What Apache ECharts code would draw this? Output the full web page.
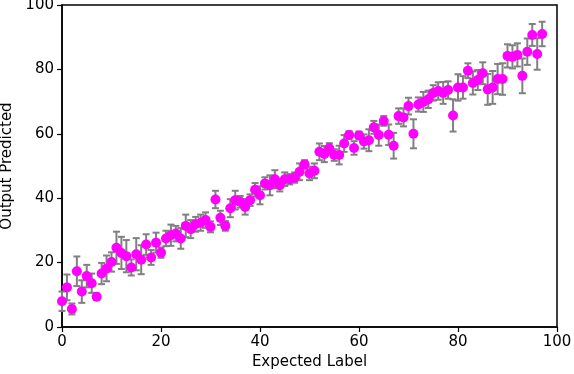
<!DOCTYPE html>
<html>
<head>
<meta charset="utf-8">
<script src="https://cdn.jsdelivr.net/npm/echarts@6/dist/echarts.min.js"></script>
<style>
  html, body { margin: 0; padding: 0; background: #fff; }
  #chart { width: 574px; height: 374px; }
</style>
</head>
<body>
<div id="chart"></div>
<script>
// expected label (x) for every point
var expectedLabel = [
  0, 1, 2, 3, 4, 5, 6, 7, 8, 9, 10, 11, 12, 13, 14, 15, 16, 17, 18, 19,
  20, 21, 22, 23, 24, 25, 26, 27, 28, 29, 30, 31, 32, 33, 34, 35, 36, 37, 38, 39,
  40, 41, 42, 43, 44, 45, 46, 47, 48, 49, 50, 51, 52, 53, 54, 55, 56, 57, 58, 59,
  60, 61, 62, 63, 64, 65, 66, 67, 68, 69, 70, 71, 72, 73, 74, 75, 76, 77, 78, 79,
  80, 81, 82, 83, 84, 85, 86, 87, 88, 89, 90, 91, 92, 93, 94, 95, 96, 97
];
// mean predicted output
var outputPredicted = [
  8.0, 12.3, 5.6, 17.3, 11.0, 15.8, 13.6, 9.4, 16.6, 18.2,
  20.2, 24.6, 23.0, 22.0, 18.5, 22.6, 20.9, 25.6, 21.6, 26.2,
  23.1, 27.5, 28.5, 29.0, 27.5, 31.4, 30.4, 31.9, 32.4, 33.2,
  31.1, 39.6, 33.9, 31.4, 36.9, 39.4, 38.9, 37.3, 39.4, 42.6,
  40.9, 44.6, 44.0, 45.9, 44.0, 45.9, 45.9, 46.4, 48.2, 50.5,
  47.7, 48.5, 54.4, 53.7, 55.5, 53.4, 53.4, 57.0, 59.6, 55.6,
  59.5, 57.6, 58.0, 62.0, 59.6, 64.0, 59.7, 56.3, 65.5, 65.1,
  68.6, 60.0, 69.1, 69.9, 70.7, 72.7, 73.3, 72.7, 73.6, 65.7,
  74.4, 74.4, 79.6, 75.8, 76.7, 78.8, 73.8, 74.4, 77.0, 77.0,
  84.2, 83.9, 84.5, 78.0, 85.5, 90.7, 84.8, 91.0
];
// error bar half-length
var outputError = [
  3.0, 4.0, 1.7, 4.6, 3.5, 3.5, 3.0, 1.0, 3.3, 4.0,
  3.0, 5.0, 5.0, 5.0, 2.5, 5.0, 4.5, 3.2, 2.3, 3.1,
  1.6, 2.4, 3.3, 2.4, 3.2, 3.5, 2.8, 2.3, 2.5, 2.4,
  1.7, 2.7, 2.2, 1.5, 2.8, 2.9, 1.8, 2.4, 1.8, 2.1,
  2.8, 1.9, 3.1, 2.8, 1.9, 2.1, 1.6, 1.6, 2.6, 1.3,
  2.1, 2.3, 2.6, 2.5, 1.6, 1.8, 2.9, 2.6, 1.2, 2.1,
  1.2, 2.2, 3.4, 2.0, 3.3, 1.5, 3.2, 4.0, 2.4, 2.8,
  2.6, 4.5, 2.2, 3.1, 2.7, 2.4, 2.7, 3.4, 2.7, 5.0,
  4.1, 3.5, 2.3, 3.6, 3.1, 3.4, 4.8, 5.1, 4.7, 4.9,
  3.6, 3.6, 3.6, 5.4, 4.1, 3.4, 4.9, 3.8
];
var xTicks = [0, 20, 40, 60, 80, 100];
var yTicks = [0, 20, 40, 60, 80, 100];

var points = expectedLabel.map(function (x, i) { return [x, outputPredicted[i]]; });
var bars = expectedLabel.map(function (x, i) {
  return [x, outputPredicted[i] - outputError[i], outputPredicted[i] + outputError[i]];
});

var chart = echarts.init(document.getElementById('chart'));
var font = 'DejaVu Sans';

function axisCommon(ticks, name, gap) {
  return {
    type: 'value',
    min: ticks[0],
    max: ticks[ticks.length - 1],
    interval: ticks[1] - ticks[0],
    name: name,
    nameLocation: 'middle',
    nameGap: gap,
    nameTextStyle: { color: '#000', fontSize: 15, fontFamily: font },
    axisLine: { show: true, onZero: false, lineStyle: { color: '#000', width: 1.5 } },
    axisTick: { show: true, inside: false, length: 5, lineStyle: { color: '#000', width: 1.2 } },
    axisLabel: { color: '#000', fontSize: 15, fontFamily: font, margin: 8 },
    splitLine: { show: false }
  };
}

var errStyle = { stroke: '#808080', lineWidth: 2 };

chart.setOption({
  animation: false,
  grid: {
    left: 62, right: 17, top: 5, bottom: 47,
    containLabel: false,
    outerBoundsMode: 'none',
    show: true, borderColor: '#000', borderWidth: 1.5, backgroundColor: '#fff'
  },
  xAxis: axisCommon(xTicks, 'Expected Label', 27),
  yAxis: axisCommon(yTicks, 'Output Predicted', 44),
  series: [
    {
      type: 'custom',
      data: bars,
      encode: { x: 0, y: [1, 2] },
      z: 2,
      renderItem: function (params, api) {
        var x = api.value(0);
        var top = api.coord([x, api.value(2)]);
        var bot = api.coord([x, api.value(1)]);
        var cap = 3.5;
        return {
          type: 'group',
          children: [
            { type: 'line', shape: { x1: top[0], y1: top[1], x2: bot[0], y2: bot[1] }, style: errStyle },
            { type: 'line', shape: { x1: top[0] - cap, y1: top[1], x2: top[0] + cap, y2: top[1] }, style: errStyle },
            { type: 'line', shape: { x1: bot[0] - cap, y1: bot[1], x2: bot[0] + cap, y2: bot[1] }, style: errStyle }
          ]
        };
      }
    },
    {
      type: 'scatter',
      data: points,
      symbol: 'circle',
      symbolSize: 10,
      z: 3,
      itemStyle: { color: '#ff00ff', opacity: 1 }
    }
  ]
});
</script>
</body>
</html>
